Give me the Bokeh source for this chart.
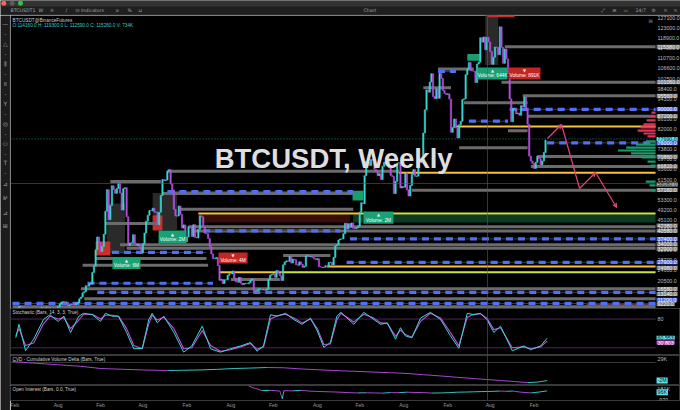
from bokeh.plotting import figure
from bokeh.layouts import column, row
from bokeh.models import (Range1d, FixedTicker, NumeralTickFormatter, Span, Label, LinearAxis,
                          ColumnDataSource, Arrow, VeeHead)
from bokeh.core.properties import value
from bokeh.embed import file_html
from bokeh.resources import INLINE

# ---------------- DATA ----------------
# weekly closes (USD thousands), week 0 = 2020-01-06
close_2020 = [8.2, 8.9, 8.6, 9.3, 9.9, 9.9, 9.7, 8.5, 8.0, 5.4, 5.8, 5.9, 6.8, 6.9, 7.1, 7.7, 8.9,
              8.7, 9.7, 8.9, 9.4, 9.7, 9.3, 9.3, 9.0, 9.3, 9.2, 9.2, 9.9, 11.1, 11.7, 11.9, 11.6,
              11.7, 10.3, 10.7, 10.9, 10.8, 10.7, 11.3, 11.5, 13.1, 13.8, 15.5, 16.0, 18.4, 18.2,
              19.2, 19.2, 23.8, 26.4, 33.0]
close_2021 = [38.2, 36.0, 32.3, 34.3, 39.3, 48.6, 57.4, 45.2, 51.0, 59.0, 57.4, 55.9, 57.9, 60.0,
              56.0, 49.1, 57.8, 58.2, 46.4, 34.7, 35.7, 35.8, 39.1, 35.5, 34.7, 35.3, 34.2, 31.8,
              35.4, 39.8, 44.6, 47.0, 48.9, 48.8, 49.9, 48.3, 48.3, 43.2, 48.2, 55.0, 61.5, 61.0,
              61.3, 64.9, 65.5, 59.7, 57.3, 49.4, 46.7, 46.7, 50.8, 47.3]
close_2022 = [41.8, 43.1, 36.3, 38.2, 42.4, 42.2, 38.4, 43.2, 38.0, 37.8, 41.3, 46.8, 46.4, 42.2,
              39.7, 39.5, 37.6, 34.3, 31.3, 29.4, 29.4, 29.9, 26.6, 20.6, 21.0, 19.3, 20.8, 20.8,
              22.6, 23.3, 23.2, 24.4, 21.5, 20.0, 19.8, 21.8, 19.4, 18.8, 19.3, 19.4, 19.2, 19.6,
              20.6, 21.1, 16.3, 16.3, 16.5, 17.1, 17.1, 16.8, 16.8, 16.6]
close_2023 = [17.1, 20.9, 22.7, 23.0, 23.3, 21.8, 24.6, 23.5, 22.4, 20.5, 26.9, 28.0, 28.5, 28.3,
              30.3, 27.6, 29.2, 28.9, 26.9, 26.7, 28.1, 27.1, 25.9, 26.3, 30.5, 30.6, 30.2, 30.3,
              29.9, 29.3, 29.0, 29.4, 26.1, 26.0, 25.8, 25.9, 26.5, 26.2, 27.9, 27.9, 26.8, 29.9,
              34.5, 35.0, 37.0, 37.4, 37.4, 39.5, 43.8, 41.4, 43.6, 42.3]
close_2024 = [43.9, 41.7, 41.6, 42.0, 42.6, 48.3, 52.1, 51.7, 63.1, 68.9, 68.4, 67.2, 69.6, 69.4,
              65.7, 64.9, 63.1, 63.9, 61.5, 66.9, 68.5, 67.8, 69.6, 66.2, 63.2, 62.7, 55.8, 60.8,
              68.2, 68.3, 58.1, 58.7, 58.4, 64.2, 57.3, 54.8, 59.1, 63.6, 65.6, 62.8, 62.9, 69.0,
              68.4, 68.8, 80.4, 89.8, 97.9, 97.0, 101.1, 104.5, 95.2, 94.3, 98.3]
close_2025 = [94.5, 104.6, 102.6, 97.7, 96.5, 96.1, 96.3, 94.2, 80.7, 82.6, 86.1, 82.4, 78.4, 83.8,
              85.2, 94.0, 94.3, 104.1, 106.4, 109.0, 105.7, 105.6, 105.5, 100.9, 108.4, 109.2,
              119.1, 117.3, 119.4, 114.2, 119.3, 117.4, 113.5, 108.3, 111.2, 115.3, 115.2, 112.2,
              123.5, 115.2, 108.7, 114.5, 110.5, 104.7, 94.2, 85.0, 90.4, 90.4, 88.2, 88.5, 87.6,
              91.5]
close_2026 = [91.0, 95.0, 89.5, 84.0, 71.0, 69.0, 68.0, 66.0, 68.5, 71.0, 70.0, 67.5, 69.0, 72.5,
              77.5]

# horizontal levels: price, start week, end week (None = right edge), kind
lv_price = [115380, 101060, 95560, 87200, 70860, 66820, 57160, 92700, 106400, 81300, 74450,
            98750, 64900, 55850, 49400, 60700, 43700, 42380, 40580, 35000, 33600, 29500,
            26700, 30650, 20900, 17200, 13140, 9900,
            90000, 85200, 76400, 105400, 56600, 40700, 37400, 31900, 27900, 19400, 15700, 11200,
            83000, 64300, 47700, 47700, 26250, 23900, 23900]
lv_start = [302, 300, 313, 316, 322, 318, 245, 277, 261, 304, 274, 252, 95, 92, 102, 60, 57, 108,
            110, 66, 70, 51, 43, 166, 134, 42, 44, 0,
            305, 280, 328, 261, 95, 117, 207, 61, 205, 46, 52, 0,
            272, 237, 114, 213, 193, 127, 165]
lv_end = [None, None, None, None, None, None, None, 316, 283, 316, 316, 269, 237, 209, 209, 91,
          89, None, None, None, None, 119, 120, 195, 164, None, None, None,
          None, 304, None, 272, 209, 201, None, 119, None, 123, None, None,
          None, None, 213, None, None, 165, None]
lv_kind = ["g"] * 28 + ["b"] * 12 + ["y", "y", "y", "yg", "y", "y", "yg"]

# shaded zones: left week, right week, bottom price, top price, kind
zn_left = [114, 209, 58, 86, 290, 51, 86, 208.6, 279, 291.4, 352]
zn_right = [207, None, 69, 101, 298, 60, 92, 215.3, 287, 308, None]
zn_bottom = [44100, 44100, 31500, 41000, 108000, 30700, 40800, 53000, 109700, 127400, 9900]
zn_top = [47300, 47300, 51800, 56000, 128200, 36400, 46900, 57000, 112500, 130000, 11000]
zn_kind = ["darkred", "darkgreen", "box", "box", "box", "red", "red", "green", "green", "red",
           "maroon"]

# volume labels
vl_left = [61.3, 89.6, 126.4, 215.3, 285.3, 304.3]
vl_right = [78.5, 106.7, 144.2, 233.7, 303.7, 323.9]
vl_top = [30000, 40800, 31900, 48500, 107000, 107000]
vl_bottom = [25200, 35500, 27400, 43600, 102100, 102100]
vl_text = ["Volume: 6M", "Volume: 2M", "Volume: 4M", "Volume: 2M", "Volume: 644K", "Volume: 891K"]
vl_up = [True, True, False, True, True, False]

# volume profile at right edge (price, length in weeks)
vp_price = [88700, 87100, 85500, 83900, 82700, 81400, 80200, 79000,
            77000, 75700, 74500, 73300, 72100, 70500, 68800, 67200, 60700, 59100, 57100]
vp_len = [2.5, 3.7, 5.5, 7.4, 9.2, 11, 7.4, 4.9,
          6, 12, 18, 23, 15, 8.6, 4.9, 3, 6, 3.7, 2.5]
vp_up = [False] * 8 + [True] * 11

# projected path (week, price)
proj_w = [328.2, 336.8, 347.9, 357.7, 370.6]
proj_p = [78180, 83860, 57880, 64380, 50170]

# right axis level labels
rl_text = ["115380.0", "101060.0", "95560.0", "90000.0", "87200.0", "77990.0", "76000.0",
           "70860.0", "66820.0", "58080.0", "57160.0", "42380.0", "40580.0", "37400.0",
           "34000.0", "32900.0", "27900.0", "24980.0", "16580.0", "13140.0", "11200.0", "9220.0"]
rl_pos = [115380, 101060, 95560, 90000, 87200, 78000, 76200, 70860, 66820, 59500, 57300, 42800,
          40700, 37400, 35200, 33400, 27900, 25700, 17100, 15000, 12700, 10900]
rl_kind = ["g", "g", "g", "b", "g", "c", "b", "g", "g", "l", "g", "g", "g", "b", "g", "g", "b",
           "g", "g", "g", "b", "g"]

# stochastic (week, %K, %D)
stoch_w = [2, 4, 8, 13, 19, 23, 28, 31.5, 35.6, 40.7, 43.7, 49, 54, 57, 61, 65, 70, 74.4, 79.6,
           83.6, 85.7, 88.8, 92.8, 99, 105, 110, 116.4, 121.5, 127.6, 133.7, 140, 146, 150, 154,
           158.3, 162.4, 167.5, 172.6, 177.7, 182.8, 187, 191, 195, 199, 201.5, 209.4, 215.5,
           221.7, 225.8, 229.9, 235, 238, 241, 245, 250.3, 256.4, 262.6, 268.7, 273.8, 279, 283,
           287, 291, 295.3, 299.4, 306.6, 313.7, 317.8, 324, 328]
stoch_k = [41, 69, 14, 38, 79, 89, 75, 86, 52, 86, 92, 89, 75, 92, 86, 86, 52, 18, 19, 79, 92, 72,
           86, 52, 11, 24, 65, 18, 11, 18, 24, 31, 13, 24, 89, 86, 92, 79, 69, 82, 55, 21, 31, 86,
           94, 69, 94, 79, 69, 72, 38, 62, 45, 41, 82, 94, 79, 45, 19, 92, 89, 92, 79, 52, 65, 14,
           24, 16, 24, 40]
stoch_d = [45, 60, 25, 30, 70, 86, 80, 83, 60, 78, 90, 90, 80, 88, 88, 86, 60, 25, 18, 70, 88, 78,
           84, 60, 18, 20, 56, 25, 13, 16, 22, 29, 17, 22, 80, 87, 90, 82, 72, 80, 60, 27, 28, 78,
           92, 74, 90, 82, 72, 71, 44, 57, 48, 42, 75, 92, 82, 52, 24, 84, 90, 91, 82, 58, 62, 20,
           22, 18, 22, 34]

# CVD (week, millions)
cvd_w = [0, 10, 20, 30, 42, 54, 66, 80, 95, 105, 115, 125, 136, 146, 156, 166, 177, 187, 197, 209,
         221, 232, 242, 252, 263, 273, 283, 291, 299, 308, 316, 322, 328]
cvd_v = [-0.18, -0.3, -0.4, -0.5, -0.62, -0.82, -0.88, -0.95, -1.0, -0.98, -0.95, -0.9, -0.82,
         -0.78, -0.73, -0.75, -0.86, -0.93, -1.0, -1.07, -1.14, -1.2, -1.27, -1.38, -1.5, -1.62,
         -1.73, -1.82, -1.9, -2.0, -2.1, -2.05, -1.92]

# open interest (week, thousands)
oi_w = [145, 149, 153, 158, 164, 165.5, 166.5, 172, 177, 182, 187, 194, 201, 206, 212, 217, 222,
        227, 232, 237, 242, 247, 252, 257, 263, 268, 273, 278, 283, 288, 293, 299, 303, 307, 312,
        318, 323, 328]
oi_v = [190, 160, 130, 135, 125, 20, 130, 128, 135, 125, 120, 115, 110, 104, 100, 102, 100, 97,
        105, 103, 110, 106, 105, 98, 100, 104, 110, 112, 115, 118, 120, 125, 122, 125, 110, 100,
        112, 128]

# date axis
date_ticks = [0, 28, 54, 80, 107, 134, 160, 187, 213, 240, 267, 293, 320]
date_labels = ["Feb", "Aug", "Feb", "Aug", "Feb", "Aug", "Feb", "Aug", "Feb", "Aug", "Feb", "Aug",
               "Feb"]

price_ticks = [127100 - 4100 * k for k in range(29)]

# ---------------- STYLE / LAYOUT ----------------
FONT = "Liberation Sans"
UP, DN = "#38d7d1", "#b64fe0"
TOTAL_W, LEFT_W, PANEL_W = 680, 10, 670
HEADER_H, MAIN_H, STOCH_H, CVD_H, OI_H = 15, 293, 47, 30, 25
XMIN, XEDGE, XFULL = -1.23, 394.5, 409.8
PMIN, PMAX = 9150, 128115
CROSS_W, CROSS_P = 291.4, 59900

xr = Range1d(XMIN, XFULL)


def panel(h, yr, ticks, fmt=None, overrides=None, xaxis=None):
    f = figure(width=PANEL_W, height=h, x_range=xr, y_range=yr, output_backend="svg",
               toolbar_location=None, x_axis_location=xaxis, y_axis_location=None,
               min_border=0, background_fill_color="black", border_fill_color="black",
               outline_line_color=None)
    f.grid.visible = False
    ax = LinearAxis(fixed_location=XEDGE, ticker=FixedTicker(ticks=ticks))
    if fmt is not None:
        ax.formatter = fmt
    if overrides:
        ax.major_label_overrides = overrides
    ax.axis_line_color = None
    ax.major_tick_line_color = None
    ax.minor_tick_line_color = None
    ax.major_tick_out = 0
    ax.major_tick_in = 0
    ax.major_label_standoff = 2
    ax.major_label_text_font_size = "5.3px"
    ax.major_label_text_font = FONT
    ax.major_label_text_color = "#bdbdbd"
    f.add_layout(ax, "right")
    return f


def small_label(f, x, y, text, color="#cfcfcf", size="4.7px", dy=0, dx=2, **kw):
    f.add_layout(Label(x=x, y=y, x_offset=dx, y_offset=dy, text=text, text_font=FONT,
                       text_font_size=size, text_color=color, text_baseline="top", **kw))


def box_label(f, y, text, bg, fg):
    f.add_layout(Label(x=XEDGE, y=y, x_offset=1, text=text, text_font=FONT,
                       text_font_size="5.3px", text_color=fg, text_baseline="middle",
                       background_fill_color=bg, padding=(1, 0)))


def hline(f, y, color, width, dash="solid"):
    f.segment([XMIN], [y], [XEDGE], [y], line_color=color, line_width=width, line_dash=dash)


# ---- main price panel ----
p = panel(MAIN_H, Range1d(PMIN, PMAX), price_ticks, fmt=NumeralTickFormatter(format="0.0"))

zone_col = {"darkred": "#3a0d0d", "darkgreen": "#0d3a22", "box": "#2a2a2a", "red": "#cf2c2a",
            "green": "#1a9e70", "maroon": "#5c3446"}
p.quad(left=zn_left, right=[XEDGE if r is None else r for r in zn_right], bottom=zn_bottom,
       top=zn_top, fill_color=[zone_col[k] for k in zn_kind], line_color=None)

lv_end_f = [XEDGE if e is None else e for e in lv_end]


def lv_src(kinds):
    idx = [i for i, k in enumerate(lv_kind) if k in kinds]
    return ColumnDataSource(dict(x0=[lv_start[i] for i in idx], x1=[lv_end_f[i] for i in idx],
                                 y=[lv_price[i] for i in idx]))


p.segment("x0", "y", "x1", "y", source=lv_src(["g"]), line_color="#6b6b6b", line_width=3)
p.segment("x0", "y", "x1", "y", source=lv_src(["b"]), line_color="#3c3c3c", line_width=1)
p.segment("x0", "y", "x1", "y", source=lv_src(["b"]), line_color="#4f70f5", line_width=3.2,
          line_dash="7 5")
p.segment("x0", "y", "x1", "y", source=lv_src(["y"]), line_color="#f3c33a", line_width=2)
p.segment("x0", "y", "x1", "y", source=lv_src(["yg"]), line_color="#c6e448", line_width=2)

# candles
closes = [c * 1000 for c in close_2020 + close_2021 + close_2022 + close_2023 + close_2024 +
          close_2025 + close_2026]
opens = [closes[0]] + closes[:-1]
weeks = list(range(len(closes)))
csrc = ColumnDataSource(dict(
    x=weeks, top=[max(o, c) for o, c in zip(opens, closes)],
    bottom=[min(o, c) for o, c in zip(opens, closes)],
    color=[UP if c >= o else DN for o, c in zip(opens, closes)]))
p.vbar(x="x", width=0.8, top="top", bottom="bottom", fill_color="color", line_color="color",
       line_width=0.6, source=csrc)

# volume profile
p.hbar(y=vp_price, left=[XEDGE - l for l in vp_len], right=XEDGE, height=900,
       fill_color=["#1d9a6c" if u else "#e0335a" for u in vp_up], line_color=None)

# volume labels
vcol = ["#17a174" if u else "#c4261f" for u in vl_up]
p.quad(left=vl_left, right=vl_right, top=vl_top, bottom=vl_bottom, fill_color=vcol,
       line_color=None)
cx = [(a + b) / 2 for a, b in zip(vl_left, vl_right)]
p.text(x=cx, y=[t - 0.28 * (t - b) for t, b in zip(vl_top, vl_bottom)],
       text=["▲" if u else "▼" for u in vl_up], text_font=value("DejaVu Sans"),
       text_font_size="3.8px", text_color="white", text_align="center", text_baseline="middle")
p.text(x=cx, y=[b + 0.3 * (t - b) for t, b in zip(vl_top, vl_bottom)], text=vl_text,
       text_font=value(FONT), text_font_size="4.8px", text_color="white", text_align="center",
       text_baseline="middle")

# projection
PINK = "#e0457b"
for i in range(len(proj_w) - 1):
    head = VeeHead(size=4, line_color=PINK, fill_color=PINK, line_width=1) if i in (0, 2, 3) else None
    p.add_layout(Arrow(end=head, x_start=proj_w[i], y_start=proj_p[i], x_end=proj_w[i + 1],
                       y_end=proj_p[i + 1], line_color=PINK, line_width=1.2))

# current price line and crosshair
hline(p, 78000, "#2aa8a8", 0.8, "1 2")
hline(p, CROSS_P, "#5a5a5a", 0.6)

# watermark
p.add_layout(Label(x=197, y=70060, text="BTCUSDT, Weekly", text_font=FONT,
                   text_font_size="27.5px", text_font_style="bold", text_color="#dedede",
                   text_align="center", text_baseline="middle"))

small_label(p, XMIN, PMAX, "BTCUSDT@BinanceFutures", dy=-2)
small_label(p, XMIN, PMAX, "O:114160.0 H: 119300.0 L: 112590.0 C: 115260.0 V: 734K",
            color="#3fc9c0", dy=-7.5)
p.add_layout(Label(x=XEDGE, y=PMAX, x_offset=-7, y_offset=-2, text="⊟", text_font="DejaVu Sans",
                   text_font_size="5px", text_color="#9a9a9a", text_baseline="top"))

# right-axis level labels
rl_bg = {"g": "#7d7d7d", "b": "#4f70f5", "c": "#62e0e8", "l": "#a8a8a8"}
rl_fg = {"g": "#f2f2f2", "b": "#ffffff", "c": "#05202a", "l": "#202020"}
for t, y, k in zip(rl_text, rl_pos, rl_kind):
    box_label(p, y, t, rl_bg[k], rl_fg[k])

# ---- stochastic ----
ps = panel(STOCH_H, Range1d(4, 102), [80])
ps.outline_line_color = "#3a3a3a"
hline(ps, 80, "#4e2560", 1)
hline(ps, 20, "#4e2560", 1)
ps.line(stoch_w, stoch_d, line_color="#c24fe0", line_width=1.1)
ps.line(stoch_w, stoch_k, line_color="#3fd6cf", line_width=1.0)
small_label(ps, XMIN, 102, "Stochastic (Bars, 14, 3, 3, True)", dy=-1.5)
box_label(ps, 41, "60.553", "#62e0e8", "#05202a")
box_label(ps, 31, "30.803", "#d040d8", "#ffffff")

# ---- CVD ----
pc = panel(CVD_H, Range1d(-2.36, 0.36), [0], overrides={0: "29K"})
pc.outline_line_color = "#3a3a3a"
hline(pc, -0.27, "#3a3a3a", 1)
pc.segment(cvd_w[:-1], cvd_v[:-1], cvd_w[1:], cvd_v[1:],
           line_color=[UP if b >= a else DN for a, b in zip(cvd_v[:-1], cvd_v[1:])],
           line_width=0.9)
small_label(pc, XMIN, 0.36, "CVD - Cumulative Volume Delta (Bars, True)", dy=-1.5)
box_label(pc, -1.9, "-2M", "#62e0e8", "#05202a")

# ---- Open interest ----
po = panel(OI_H, Range1d(-2, 200), [181, -1], overrides={181: "181K", -1: "-970"},
           xaxis="below")
po.outline_line_color = "#3a3a3a"
po.segment(oi_w[:-1], oi_v[:-1], oi_w[1:], oi_v[1:],
           line_color=[UP if b >= a else DN for a, b in zip(oi_v[:-1], oi_v[1:])],
           line_width=0.9)
small_label(po, XMIN, 200, "Open Interest (Bars, 0.0, True)", dy=-1)
box_label(po, 110, "96K", "#62e0e8", "#05202a")
xa = po.xaxis[0]
xa.ticker = FixedTicker(ticks=date_ticks)
xa.major_label_overrides = {t: l for t, l in zip(date_ticks, date_labels)}
xa.axis_line_color = None
xa.major_tick_line_color = None
xa.minor_tick_line_color = None
xa.major_tick_out = 0
xa.major_tick_in = 0
xa.major_label_standoff = 1
xa.major_label_text_font_size = "5px"
xa.major_label_text_font = FONT
xa.major_label_text_color = "#9a9a9a"
po.add_layout(Label(x=CROSS_W, y=-2, y_offset=-0.5, text="11 Aug 2025", text_font=FONT,
                    text_font_size="4.7px", text_color="#111111", text_align="center",
                    text_baseline="top", background_fill_color="#d6d6d6", padding=(6, 0)))

for f in (p, ps, pc, po):
    f.add_layout(Span(location=CROSS_W, dimension="height", line_color="#5a5a5a",
                      line_width=0.6))

# ---- header (window chrome) ----
hdr = figure(width=TOTAL_W, height=HEADER_H, x_range=Range1d(0, TOTAL_W),
             y_range=Range1d(HEADER_H, 0), output_backend="svg", toolbar_location=None,
             x_axis_location=None, y_axis_location=None, min_border=0,
             background_fill_color="#1f1f1f", border_fill_color="#1f1f1f",
             outline_line_color=None)
hdr.grid.visible = False
hdr.quad(left=[0], right=[TOTAL_W], top=[0], bottom=[6], fill_color="#333333", line_color=None)
hdr.segment([0], [14.5], [TOTAL_W], [14.5], line_color="#3a3a3a", line_width=1)
hdr.scatter(x=[3.3, 11.7, 20], y=[2.8, 2.8, 2.8], size=5,
            fill_color=["#ff5f57", "#5c5c5c", "#28c840"], line_color=None)
tb_x = [10, 38, 50, 65, 75, 115, 127, 138, 363]
tb_t = ["BTCUSDT1", "W", "⊪", "/", "⊡ Indicators", "⊍", "%", "⊔", "Chart"]
hdr.text(x=tb_x, y=[10.3] * len(tb_x), text=tb_t, text_font=value("DejaVu Sans"),
         text_font_size="4.7px", text_color="#a8a8a8", text_baseline="middle")
rt_x = [600, 612, 623, 635, 651, 663, 673]
rt_t = ["⤢", "⊞", "▭", "24/7", "⚙", "✕", "✕"]
hdr.text(x=rt_x, y=[10.3] * len(rt_x), text=rt_t, text_font=value("DejaVu Sans"),
         text_font_size="4.7px", text_color="#9a9a9a", text_baseline="middle")

# ---- left tool strip ----
STRIP_H = MAIN_H + STOCH_H + CVD_H + OI_H
strip = figure(width=LEFT_W, height=STRIP_H, x_range=Range1d(0, LEFT_W),
               y_range=Range1d(STRIP_H, 0), output_backend="svg", toolbar_location=None,
               x_axis_location=None, y_axis_location=None, min_border=0,
               background_fill_color="#1c1c1c", border_fill_color="#1c1c1c",
               outline_line_color=None)
strip.grid.visible = False
strip.segment([9.6], [0], [9.6], [STRIP_H], line_color="#333333", line_width=1)
ic_y = [8, 28, 48, 68, 88, 108, 128, 147, 168, 182, 197, 210]
ic_t = ["—", "△", "⫼", "ʬ", "Y", "◎", "⚇", "T", "⊿", "⊯", "⊿", "⊞"]
strip.text(x=[4.8] * len(ic_y), y=ic_y, text=ic_t, text_font=value("DejaVu Sans"),
           text_font_size="6px", text_color="#a0a0a0", text_align="center",
           text_baseline="middle")
ch_y = [18, 38, 58, 78, 98, 118, 138, 157]
strip.text(x=[4.8] * len(ch_y), y=ch_y, text=["⌄"] * len(ch_y), text_font=value("DejaVu Sans"),
           text_font_size="4.5px", text_color="#8a8a8a", text_align="center",
           text_baseline="middle")

layout = column(hdr, row(strip, column(p, ps, pc, po)))
open("out.html", "w").write(file_html(layout, INLINE, "Chart"))
